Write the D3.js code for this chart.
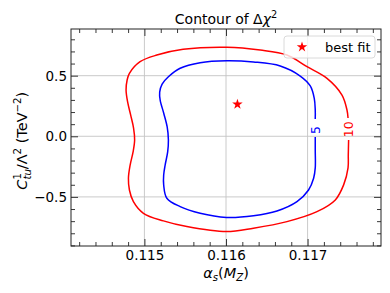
<!DOCTYPE html>
<html>
<head>
<meta charset="utf-8">
<script src="https://cdn.jsdelivr.net/npm/d3@7"></script>
<style>
	body { margin: 0; background: #fff; }
	svg { display: block; font-family: "DejaVu Sans", sans-serif; }
</style>
</head>
<body>
<div id="chart"></div>
<script>
/* Datos */
const xTicks = [0.115, 0.116, 0.117];
const yTicks = [-0.5, 0.0, 0.5];
const xTickLabels = ["0.115", "0.116", "0.117"];
const yTickLabels = ["\u22120.5", "0.0", "0.5"];

// contorno Δχ² = 10 (empieza bajo la etiqueta, recorre en sentido horario)
const contour10 = [
	[0.117503, -0.031], [0.117499, -0.154], [0.117496, -0.261], [0.117442, -0.401],
	[0.117340, -0.525], [0.117115, -0.622], [0.116747, -0.704], [0.116337, -0.758],
	[0.116006, -0.786], [0.115520, -0.745], [0.115233, -0.698], [0.114988, -0.635],
	[0.114865, -0.539], [0.114816, -0.443], [0.114804, -0.346], [0.114825, -0.237],
	[0.114861, -0.129], [0.114880, -0.031], [0.114867, 0.068], [0.114831, 0.176],
	[0.114794, 0.283], [0.114775, 0.382], [0.114788, 0.464], [0.114816, 0.519],
	[0.114947, 0.615], [0.115152, 0.670], [0.115475, 0.717], [0.116011, 0.734],
	[0.116420, 0.711], [0.116747, 0.670], [0.116993, 0.574], [0.117238, 0.478],
	[0.117422, 0.340], [0.117483, 0.217], [0.117496, 0.151]
];

// contorno Δχ² = 5
const contour5 = [
	[0.117094, -0.006], [0.117094, -0.113], [0.117094, -0.261], [0.117074, -0.346],
	[0.117012, -0.443], [0.116870, -0.539], [0.116625, -0.616], [0.116337, -0.655],
	[0.116006, -0.669], [0.115683, -0.635], [0.115438, -0.580], [0.115275, -0.511],
	[0.115236, -0.401], [0.115236, -0.319], [0.115254, -0.237], [0.115285, -0.129],
	[0.115294, -0.031], [0.115279, 0.077], [0.115236, 0.192], [0.115193, 0.299],
	[0.115187, 0.365], [0.115217, 0.431], [0.115294, 0.491], [0.115438, 0.561],
	[0.115683, 0.607], [0.116011, 0.623], [0.116337, 0.613], [0.116665, 0.580],
	[0.116910, 0.497], [0.117033, 0.415], [0.117082, 0.313], [0.117094, 0.217],
	[0.117094, 0.143]
];

const levels = [5, 10];
const levelColors = ["#0000ff", "#ff0000"];
const levelLabelAt = [[0.117094, 0.052], [0.117496, 0.058]];
const bestFit = [0.11614, 0.264];

/* Layout */
const W = 390, H = 293;
const M = { top: 29, right: 9, bottom: 47, left: 71 };
const FONT = "DejaVu Sans";
const FS = 13.5;

const svg = d3.select("#chart").append("svg").attr("width", W).attr("height", H);

const x = d3.scaleLinear().domain([0.1141, 0.1179]).range([M.left, W - M.right]);
const y = d3.scaleLinear().domain([-0.905, 0.885]).range([H - M.bottom, M.top]);

const xMinor = d3.range(0.1142, 0.1179, 0.0002).filter(v => !xTicks.some(t => Math.abs(t - v) < 1e-7));
const yMinor = d3.range(-0.9, 0.85, 0.1).filter(v => !yTicks.some(t => Math.abs(t - v) < 1e-7));

// grid
const grid = svg.append("g").attr("stroke", "#c4c4c4").attr("stroke-width", 0.9);
grid.selectAll("line.gx").data(xTicks).join("line")
	.attr("x1", d => x(d)).attr("x2", d => x(d))
	.attr("y1", y.range()[0]).attr("y2", y.range()[1]);
grid.selectAll("line.gy").data(yTicks).join("line")
	.attr("y1", d => y(d)).attr("y2", d => y(d))
	.attr("x1", x.range()[0]).attr("x2", x.range()[1]);

// contornos
const line = d3.line().x(d => x(d[0])).y(d => y(d[1])).curve(d3.curveCatmullRom.alpha(0.5));
[contour5, contour10].forEach((c, i) => {
	svg.append("path").datum(c)
		.attr("d", line)
		.attr("fill", "none")
		.attr("stroke", levelColors[i])
		.attr("stroke-width", 1.5);
});

levels.forEach((lv, i) => {
	const p = levelLabelAt[i];
	svg.append("text")
		.attr("transform", `translate(${x(p[0])},${y(p[1])}) rotate(-90)`)
		.attr("text-anchor", "middle")
		.attr("dy", "0.36em")
		.attr("font-size", 12.5)
		.attr("fill", levelColors[i])
		.text(lv);
});

// mejor ajuste
const star = d3.symbol(d3.symbolStar).size(34);
svg.append("path")
	.attr("d", star)
	.attr("transform", `translate(${x(bestFit[0])},${y(bestFit[1])})`)
	.attr("fill", "#ff0000");

// ejes con ticks hacia adentro
function tickAxis(axisFn, scale, vals, size, labels, tr) {
	const a = axisFn(scale).tickValues(vals).tickSize(-size).tickSizeOuter(0).tickPadding(4);
	if (labels) a.tickFormat((d, i) => labels[i]); else a.tickFormat("");
	const g = svg.append("g").attr("transform", tr).call(a);
	g.select(".domain").remove();
	g.selectAll("line").attr("stroke", "#222").attr("stroke-width", 0.9);
	g.selectAll("text").attr("font-family", FONT).attr("font-size", FS).attr("fill", "#000");
	return g;
}
const bx = `translate(0,${H - M.bottom})`, tx = `translate(0,${M.top})`;
const ly = `translate(${M.left},0)`, ry = `translate(${W - M.right},0)`;
tickAxis(d3.axisBottom, x, xTicks, 7, xTickLabels, bx);
tickAxis(d3.axisBottom, x, xMinor, 4, null, bx);
tickAxis(d3.axisTop, x, xTicks, 7, null, tx);
tickAxis(d3.axisTop, x, xMinor, 4, null, tx);
tickAxis(d3.axisLeft, y, yTicks, 7, yTickLabels, ly);
tickAxis(d3.axisLeft, y, yMinor, 4, null, ly);
tickAxis(d3.axisRight, y, yTicks, 7, null, ry);
tickAxis(d3.axisRight, y, yMinor, 4, null, ry);

svg.append("rect")
	.attr("x", M.left).attr("y", M.top)
	.attr("width", W - M.left - M.right).attr("height", H - M.top - M.bottom)
	.attr("fill", "none").attr("stroke", "#222").attr("stroke-width", 1);

// leyenda
const leg = svg.append("g").attr("transform", "translate(284,36)");
leg.append("rect").attr("width", 91).attr("height", 22).attr("rx", 3)
	.attr("fill", "#fff").attr("fill-opacity", 0.8)
	.attr("stroke", "#d6d6d6").attr("stroke-width", 0.9);
leg.append("path").attr("d", star).attr("transform", "translate(18,11)").attr("fill", "#ff0000");
leg.append("text").attr("x", 41).attr("y", 15.5).attr("font-size", 13).text("best fit");

// textos con notación matemática
function mathText(g, parts, size) {
	const t = g.append("text").attr("font-size", size).attr("fill", "#000");
	parts.forEach(p => {
		const s = t.append("tspan").text(p.t);
		if (p.i) s.attr("font-style", "italic");
		if (p.s) s.attr("font-size", size * 0.7);
		if (p.dy) s.attr("dy", p.dy);
		if (p.dx) s.attr("dx", p.dx);
	});
	const w = t.node().getComputedTextLength();
	t.attr("x", -w / 2);
	return t;
}

mathText(svg.append("g").attr("transform", `translate(${(M.left + W - M.right) / 2},24)`), [
	{ t: "Contour of \u0394" }, { t: "\u03c7", i: 1 }, { t: "2", s: 1, dy: -6 }
], 14);

mathText(svg.append("g").attr("transform", `translate(${(M.left + W - M.right) / 2},278)`), [
	{ t: "\u03b1", i: 1 }, { t: "s", i: 1, s: 1, dy: 3 }, { t: "(", dy: -3 },
	{ t: "M", i: 1 }, { t: "Z", i: 1, s: 1, dy: 3 }, { t: ")", dy: -3 }
], 14.5);

mathText(svg.append("g").attr("transform", `translate(27,${(M.top + H - M.bottom) / 2}) rotate(-90)`), [
	{ t: "C", i: 1 }, { t: "1", s: 1, dy: -6 }, { t: "tu", i: 1, s: 1, dy: 10, dx: -6.5 },
	{ t: "/\u039b", dy: -4 }, { t: "2", s: 1, dy: -6 }, { t: " (TeV", dy: 6 },
	{ t: "\u22122", s: 1, dy: -6 }, { t: ")", dy: 6 }
], 14.5);
</script>
</body>
</html>
